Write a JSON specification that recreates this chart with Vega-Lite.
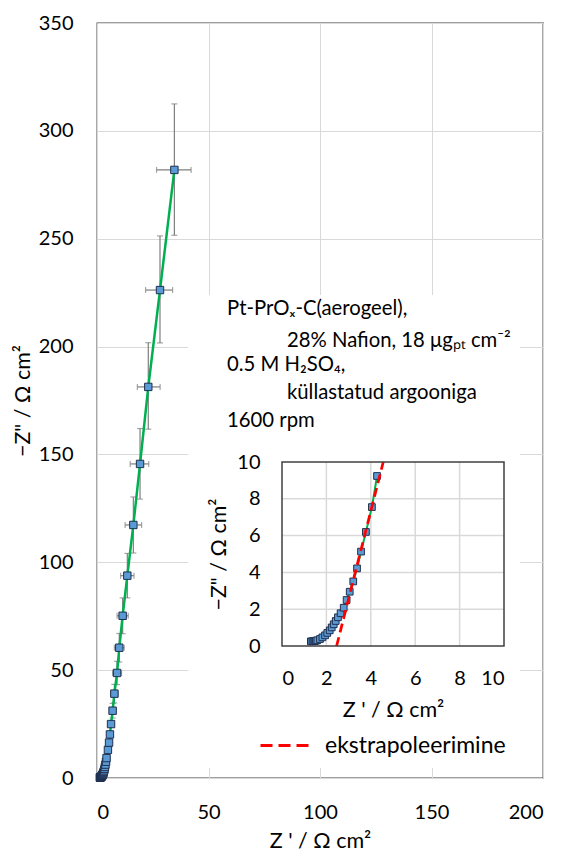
{
  "$schema": "https://vega.github.io/schema/vega-lite/v6.json",
  "width": 446,
  "height": 755,
  "autosize": {"type": "none"},
  "padding": {"left": 97, "top": 23, "right": 18, "bottom": 74},
  "background": "white",
  "config": {
    "view": {"stroke": "#404040", "strokeWidth": 1.3},
    "font": "Lato",
    "axis": {
      "labelFont": "Lato", "titleFont": "Lato", "labelColor": "#000", "titleColor": "#000",
      "titleFontWeight": "normal", "domain": false, "ticks": false,
      "gridColor": "#D9D9D9", "gridWidth": 1, "labelFontSize": 20, "titleFontSize": 21.5
    }
  },
  "datasets": {
    "imp": [
      {"x": 1.30, "y": 0.25}, {"x": 1.37, "y": 0.26}, {"x": 1.42, "y": 0.26}, {"x": 1.47, "y": 0.27},
      {"x": 1.53, "y": 0.29}, {"x": 1.59, "y": 0.31}, {"x": 1.71, "y": 0.38}, {"x": 1.82, "y": 0.47},
      {"x": 1.94, "y": 0.58}, {"x": 2.04, "y": 0.71}, {"x": 2.15, "y": 0.85}, {"x": 2.24, "y": 1.01},
      {"x": 2.33, "y": 1.18}, {"x": 2.42, "y": 1.36}, {"x": 2.52, "y": 1.56}, {"x": 2.64, "y": 1.78},
      {"x": 2.78, "y": 2.08}, {"x": 2.91, "y": 2.50}, {"x": 3.05, "y": 2.95}, {"x": 3.21, "y": 3.51},
      {"x": 3.38, "y": 4.22}, {"x": 3.56, "y": 5.13}, {"x": 3.78, "y": 6.20}, {"x": 4.05, "y": 7.55},
      {"x": 4.28, "y": 9.24}, {"x": 4.9, "y": 13.0}, {"x": 5.4, "y": 16.4}, {"x": 5.8, "y": 20.2},
      {"x": 6.3, "y": 25.0},
      {"x": 7.0, "y": 31.2, "xlo": 5.5, "xhi": 8.5, "ylo": 27.8, "yhi": 34.6},
      {"x": 7.8, "y": 39.1, "xlo": 6.1, "xhi": 9.5, "ylo": 34.8, "yhi": 43.4},
      {"x": 9.0, "y": 48.7, "xlo": 7.0, "xhi": 11.0, "ylo": 43.3, "yhi": 54.1},
      {"x": 10.0, "y": 60.4, "xlo": 7.8, "xhi": 12.2, "ylo": 53.8, "yhi": 67.0},
      {"x": 11.5, "y": 75.2, "xlo": 9.0, "xhi": 14.0, "ylo": 66.9, "yhi": 83.5},
      {"x": 13.6, "y": 93.8, "xlo": 10.6, "xhi": 16.6, "ylo": 83.5, "yhi": 104.1},
      {"x": 16.3, "y": 117.3, "xlo": 12.6, "xhi": 20.0, "ylo": 104.3, "yhi": 130.3},
      {"x": 19.3, "y": 145.6, "xlo": 14.9, "xhi": 23.2, "ylo": 129.3, "yhi": 162.0},
      {"x": 23.0, "y": 181.3, "xlo": 18.1, "xhi": 28.3, "ylo": 161.7, "yhi": 201.8},
      {"x": 28.25, "y": 226.2, "xlo": 21.8, "xhi": 33.9, "ylo": 201.7, "yhi": 251.3},
      {"x": 34.7, "y": 281.9, "xlo": 26.7, "xhi": 42.2, "ylo": 251.6, "yhi": 312.5}
    ],
    "ext": [
      {"x": 2.46, "y": 0, "s": "ekstrapoleerimine"},
      {"x": 4.56, "y": 10, "s": "ekstrapoleerimine"}
    ],
    "grid": [{"v": 2}, {"v": 4}, {"v": 6}, {"v": 8}]
  },
  "layer": [
    {
      "layer": [
        {
          "data": {"values": [{}]},
          "mark": {"type": "rect", "fill": "white", "stroke": null},
          "encoding": {
            "x": {"datum": 40.8, "type": "quantitative", "title": "Z ' / Ω cm²",
                  "scale": {"domain": [0, 200], "nice": false, "zero": true},
                  "axis": {"orient": "bottom", "values": [0, 50, 100, 150, 200], "grid": true, "labelPadding": 24, "title": "Z ' / Ω cm²", "titlePadding": 8}},
            "x2": {"datum": 189.6},
            "y": {"datum": 4.6, "type": "quantitative", "title": "−Z\" / Ω cm²",
                  "scale": {"domain": [0, 350], "nice": false, "zero": true},
                  "axis": {"orient": "left", "values": [0, 50, 100, 150, 200, 250, 300, 350], "grid": true, "labelPadding": 24, "title": "−Z\" / Ω cm²", "titlePadding": 4}},
            "y2": {"datum": 223.9}
          }
        },
        {
          "data": {"name": "imp"},
          "transform": [{"filter": "isValid(datum.ylo)"}],
          "mark": {"type": "errorbar", "ticks": {"size": 6, "thickness": 1.2, "color": "#7F7F7F"}, "rule": {"strokeWidth": 1.2, "color": "#7F7F7F"}},
          "encoding": {
            "x": {"field": "x", "type": "quantitative", "title": "Z ' / Ω cm²"},
            "y": {"field": "ylo", "type": "quantitative", "title": "−Z\" / Ω cm²"},
            "y2": {"field": "yhi"}
          }
        },
        {
          "data": {"name": "imp"},
          "transform": [{"filter": "isValid(datum.xlo)"}],
          "mark": {"type": "errorbar", "ticks": {"size": 6, "thickness": 1.2, "color": "#7F7F7F"}, "rule": {"strokeWidth": 1.2, "color": "#7F7F7F"}},
          "encoding": {
            "y": {"field": "y", "type": "quantitative", "title": "−Z\" / Ω cm²"},
            "x": {"field": "xlo", "type": "quantitative", "title": "Z ' / Ω cm²"},
            "x2": {"field": "xhi"}
          }
        },
        {
          "data": {"name": "imp"},
          "mark": {"type": "line", "color": "#00B050", "strokeWidth": 2.5},
          "encoding": {
            "x": {"field": "x", "type": "quantitative", "title": "Z ' / Ω cm²"},
            "y": {"field": "y", "type": "quantitative", "title": "−Z\" / Ω cm²"},
            "order": {"field": "y", "type": "quantitative"}
          }
        },
        {
          "data": {"name": "imp"},
          "mark": {"type": "point", "shape": "square", "filled": true, "fill": "#5B9BD5", "stroke": "#1F2F4F", "strokeWidth": 1, "size": 55, "opacity": 1},
          "encoding": {
            "x": {"field": "x", "type": "quantitative", "title": "Z ' / Ω cm²"},
            "y": {"field": "y", "type": "quantitative", "title": "−Z\" / Ω cm²"}
          }
        },
        {
          "data": {"values": [{"t": "Pt-PrOₓ-C(aerogeel),"}]},
          "mark": {"type": "text", "align": "left", "baseline": "alphabetic", "fontSize": 20.3, "font": "Lato", "color": "#000"},
          "encoding": {"x": {"datum": 58.3, "type": "quantitative"}, "y": {"datum": 214.6, "type": "quantitative"}, "text": {"field": "t"}}
        },
        {
          "data": {"values": [{"t": "28% Nafion, 18 μgₚₜ cm⁻²"}]},
          "mark": {"type": "text", "align": "left", "baseline": "alphabetic", "fontSize": 20.3, "font": "Lato", "color": "#000"},
          "encoding": {"x": {"datum": 85.2, "type": "quantitative"}, "y": {"datum": 200.0, "type": "quantitative"}, "text": {"field": "t"}}
        },
        {
          "data": {"values": [{"t": "0.5 M H₂SO₄,"}]},
          "mark": {"type": "text", "align": "left", "baseline": "alphabetic", "fontSize": 20.3, "font": "Lato", "color": "#000"},
          "encoding": {"x": {"datum": 58.3, "type": "quantitative"}, "y": {"datum": 188.8, "type": "quantitative"}, "text": {"field": "t"}}
        },
        {
          "data": {"values": [{"t": "küllastatud argooniga"}]},
          "mark": {"type": "text", "align": "left", "baseline": "alphabetic", "fontSize": 20.3, "font": "Lato", "color": "#000"},
          "encoding": {"x": {"datum": 85.2, "type": "quantitative"}, "y": {"datum": 175.6, "type": "quantitative"}, "text": {"field": "t"}}
        },
        {
          "data": {"values": [{"t": "1600 rpm"}]},
          "mark": {"type": "text", "align": "left", "baseline": "alphabetic", "fontSize": 20.3, "font": "Lato", "color": "#000"},
          "encoding": {"x": {"datum": 58.3, "type": "quantitative"}, "y": {"datum": 162.7, "type": "quantitative"}, "text": {"field": "t"}}
        }
      ]
    },
    {
      "layer": [
        {
          "data": {"values": [{}]},
          "mark": {"type": "rect", "fill": "white", "stroke": null},
          "encoding": {
            "x": {"datum": 0, "type": "quantitative", "title": "Z ' / Ω cm²",
                  "scale": {"domain": [0, 10], "range": [185, 407], "nice": false},
                  "axis": {"orient": "bottom", "offset": -132, "zindex": 2, "values": [0, 2, 4, 6, 8, 10], "format": "d", "grid": false, "labelPadding": 22, "title": "Z ' / Ω cm²", "titlePadding": 11}},
            "x2": {"datum": 10},
            "y": {"datum": 0, "type": "quantitative", "title": "−Z\" / Ω cm²",
                  "scale": {"domain": [0, 10], "range": [623, 439], "nice": false},
                  "axis": {"orient": "left", "offset": -185, "zindex": 2, "values": [0, 2, 4, 6, 8, 10], "format": "d", "grid": false, "labelPadding": 22, "title": "−Z\" / Ω cm²", "titlePadding": 6}},
            "y2": {"datum": 10}
          }
        },
        {
          "data": {"name": "grid"},
          "mark": {"type": "rule", "color": "#D9D9D9", "strokeWidth": 1.5},
          "encoding": {"x": {"field": "v", "type": "quantitative", "title": "Z ' / Ω cm²"}, "y": {"datum": 0, "type": "quantitative"}, "y2": {"datum": 10}}
        },
        {
          "data": {"name": "grid"},
          "mark": {"type": "rule", "color": "#D9D9D9", "strokeWidth": 1.5},
          "encoding": {"y": {"field": "v", "type": "quantitative", "title": "−Z\" / Ω cm²"}, "x": {"datum": 0, "type": "quantitative"}, "x2": {"datum": 10}}
        },
        {
          "data": {"name": "imp"},
          "transform": [{"filter": "datum.y <= 10"}],
          "mark": {"type": "line", "color": "#00B050", "strokeWidth": 2},
          "encoding": {
            "x": {"field": "x", "type": "quantitative", "title": "Z ' / Ω cm²"},
            "y": {"field": "y", "type": "quantitative", "title": "−Z\" / Ω cm²"},
            "order": {"field": "y", "type": "quantitative"}
          }
        },
        {
          "data": {"name": "imp"},
          "transform": [{"filter": "datum.y <= 10"}],
          "mark": {"type": "point", "shape": "square", "filled": true, "fill": "#5B9BD5", "stroke": "#1F2F4F", "strokeWidth": 1, "size": 45, "opacity": 1},
          "encoding": {
            "x": {"field": "x", "type": "quantitative", "title": "Z ' / Ω cm²"},
            "y": {"field": "y", "type": "quantitative", "title": "−Z\" / Ω cm²"}
          }
        },
        {
          "data": {"name": "ext"},
          "mark": {"type": "line", "strokeWidth": 2.75, "strokeDash": [9, 5]},
          "encoding": {
            "x": {"field": "x", "type": "quantitative", "title": "Z ' / Ω cm²"},
            "y": {"field": "y", "type": "quantitative", "title": "−Z\" / Ω cm²"},
            "color": {"field": "s", "type": "nominal", "scale": {"range": ["#FF0000"]},
              "legend": {"orient": "none", "legendX": 162, "legendY": 697, "title": null, "padding": 0,
                "symbolType": "stroke", "symbolSize": 2304, "symbolStrokeWidth": 3, "symbolDash": [12, 6], "symbolStrokeColor": "#FF0000",
                "labelFont": "Lato", "labelFontSize": 23, "labelColor": "#000", "labelOffset": 15, "labelLimit": 400}}
          }
        },
        {
          "data": {"values": [{}]},
          "mark": {"type": "rect", "fill": null, "stroke": "#404040", "strokeWidth": 1.5},
          "encoding": {
            "x": {"datum": 0, "type": "quantitative"}, "x2": {"datum": 10},
            "y": {"datum": 0, "type": "quantitative"}, "y2": {"datum": 10}
          }
        }
      ]
    }
  ],
  "resolve": {"scale": {"x": "independent", "y": "independent"}}
}
